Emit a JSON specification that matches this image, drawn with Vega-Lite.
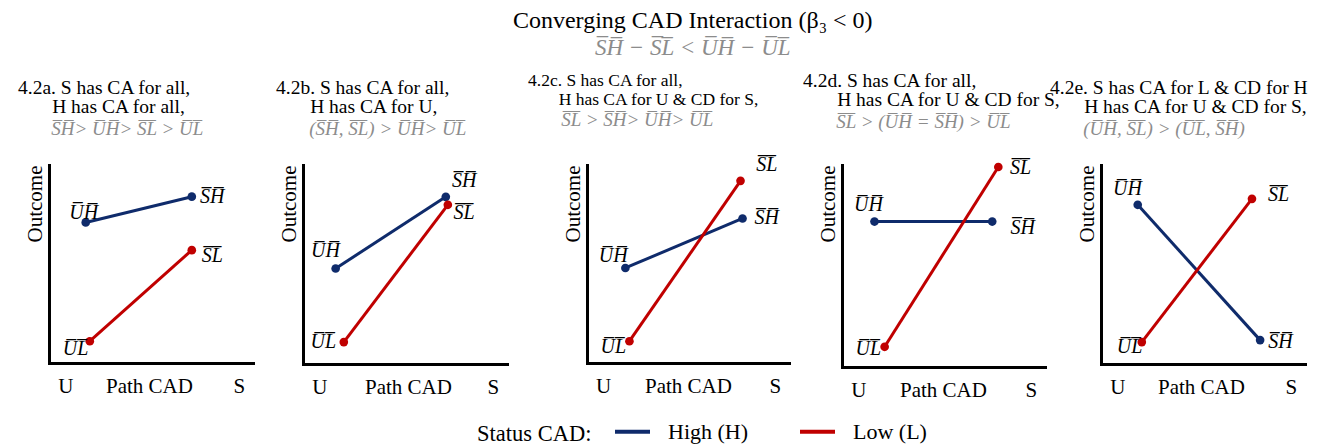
{
  "$schema": "https://vega.github.io/schema/vega-lite/v6.json",
  "background": "white",
  "padding": {"left": 18, "top": 8, "right": 5, "bottom": 2},
  "title": {
    "text": "Converging CAD Interaction  (β₃ < 0)",
    "subtitle": "S̅H̅ − S̅L̅ < U̅H̅ − U̅L̅",
    "anchor": "middle",
    "frame": "bounds",
    "fontSize": 24,
    "lineHeight": 24,
    "subtitleFontSize": 23,
    "subtitleFontStyle": "italic",
    "subtitleColor": "#8c8c8c",
    "subtitlePadding": 4,
    "offset": 11,
    "dx": 29
  },
  "datasets": {
    "pts": [
      {"panel": "a", "status": "High (H)", "path": "U", "x": 0.18, "y": 0.71},
      {"panel": "a", "status": "High (H)", "path": "S", "x": 0.70, "y": 0.84},
      {"panel": "a", "status": "Low (L)", "path": "U", "x": 0.20, "y": 0.11},
      {"panel": "a", "status": "Low (L)", "path": "S", "x": 0.70, "y": 0.57},
      {"panel": "b", "status": "High (H)", "path": "U", "x": 0.16, "y": 0.48},
      {"panel": "b", "status": "High (H)", "path": "S", "x": 0.70, "y": 0.84},
      {"panel": "b", "status": "Low (L)", "path": "U", "x": 0.20, "y": 0.11},
      {"panel": "b", "status": "Low (L)", "path": "S", "x": 0.71, "y": 0.80},
      {"panel": "c", "status": "High (H)", "path": "U", "x": 0.19, "y": 0.48},
      {"panel": "c", "status": "High (H)", "path": "S", "x": 0.77, "y": 0.73},
      {"panel": "c", "status": "Low (L)", "path": "U", "x": 0.21, "y": 0.11},
      {"panel": "c", "status": "Low (L)", "path": "S", "x": 0.76, "y": 0.92},
      {"panel": "d", "status": "High (H)", "path": "U", "x": 0.16, "y": 0.72},
      {"panel": "d", "status": "High (H)", "path": "S", "x": 0.74, "y": 0.72},
      {"panel": "d", "status": "Low (L)", "path": "U", "x": 0.21, "y": 0.10},
      {"panel": "d", "status": "Low (L)", "path": "S", "x": 0.77, "y": 0.99},
      {"panel": "e", "status": "High (H)", "path": "U", "x": 0.18, "y": 0.80},
      {"panel": "e", "status": "High (H)", "path": "S", "x": 0.78, "y": 0.12},
      {"panel": "e", "status": "Low (L)", "path": "U", "x": 0.20, "y": 0.11},
      {"panel": "e", "status": "Low (L)", "path": "S", "x": 0.74, "y": 0.83}
    ],
    "labs": [
      {"panel": "a", "label": "U̅H̅", "x": 0.17, "y": 0.76},
      {"panel": "a", "label": "S̅H̅", "x": 0.80, "y": 0.84},
      {"panel": "a", "label": "S̅L̅", "x": 0.80, "y": 0.54},
      {"panel": "a", "label": "U̅L̅", "x": 0.13, "y": 0.07},
      {"panel": "b", "label": "U̅H̅", "x": 0.11, "y": 0.57},
      {"panel": "b", "label": "S̅H̅", "x": 0.79, "y": 0.92},
      {"panel": "b", "label": "S̅L̅", "x": 0.79, "y": 0.76},
      {"panel": "b", "label": "U̅L̅", "x": 0.10, "y": 0.11},
      {"panel": "c", "label": "S̅L̅", "x": 0.89, "y": 1.00},
      {"panel": "c", "label": "S̅H̅", "x": 0.89, "y": 0.73},
      {"panel": "c", "label": "U̅H̅", "x": 0.13, "y": 0.54},
      {"panel": "c", "label": "U̅L̅", "x": 0.13, "y": 0.08},
      {"panel": "d", "label": "U̅H̅", "x": 0.13, "y": 0.80},
      {"panel": "d", "label": "S̅H̅", "x": 0.89, "y": 0.69},
      {"panel": "d", "label": "S̅L̅", "x": 0.88, "y": 0.985},
      {"panel": "d", "label": "U̅L̅", "x": 0.13, "y": 0.09},
      {"panel": "e", "label": "U̅H̅", "x": 0.13, "y": 0.88},
      {"panel": "e", "label": "S̅L̅", "x": 0.87, "y": 0.85},
      {"panel": "e", "label": "S̅H̅", "x": 0.88, "y": 0.11},
      {"panel": "e", "label": "U̅L̅", "x": 0.14, "y": 0.085}
    ]
  },
  "bounds": "flush",
  "spacing": 14,
  "hconcat": [
    {
      "width": 240, "height": 198,
      "title": {"text": ["4.2a. S has CA for all,", "\u200b\u00a0\u00a0\u00a0\u00a0\u00a0\u00a0\u00a0H has CA for all,"], "subtitle": "\u200b\u00a0\u00a0\u00a0\u00a0\u00a0\u00a0\u00a0S̅H̅> U̅H̅> S̅L̅ > U̅L̅", "anchor": "start", "dx": -31},
      "encoding": {
        "x": {"field": "x", "type": "quantitative", "title": "Path CAD", "scale": {"domain": [0, 1], "range": [0, 204], "nice": false, "zero": false}, "axis": {"values": [0.08, 0.93], "labelExpr": "datum.value < 0.5 ? 'U' : 'S'", "titleX": 100}},
        "y": {"field": "y", "type": "quantitative", "title": "Outcome", "scale": {"domain": [0, 1], "nice": false, "zero": false}, "axis": {"offset": 0}}
      },
      "layer": [
        {"mark": {"type": "rule", "color": "#f0f0f0", "strokeWidth": 1.5}, "encoding": {"x": {"datum": -0.20, "type": "quantitative"}, "x2": {"datum": 1.132}, "y": {"datum": 1.075, "type": "quantitative"}}},
        {"data": {"name": "pts"}, "transform": [{"filter": "datum.panel === 'a'"}], "mark": {"type": "line", "strokeWidth": 3}, "encoding": {"color": {"field": "status", "type": "nominal", "title": "Status CAD:", "scale": {"domain": ["High (H)", "Low (L)"], "range": ["#0f2b6b", "#c00000"]}}}},
        {"data": {"name": "pts"}, "transform": [{"filter": "datum.panel === 'a'"}], "mark": {"type": "point", "filled": true, "size": 75, "opacity": 1}, "encoding": {"color": {"field": "status", "type": "nominal"}}},
        {"data": {"name": "labs"}, "transform": [{"filter": "datum.panel === 'a'"}], "mark": {"type": "text", "fontStyle": "italic", "fontSize": 20, "baseline": "middle"}, "encoding": {"text": {"field": "label"}}},
        {"mark": {"type": "point", "shape": "triangle-up", "filled": true, "color": "black", "size": 120, "opacity": 1}, "encoding": {"x": {"datum": 0, "type": "quantitative"}, "y": {"datum": 1, "type": "quantitative"}}}
      ]
    },
    {
      "width": 240, "height": 199,
      "title": {"text": ["4.2b. S has CA for all,", "\u200b\u00a0\u00a0\u00a0\u00a0\u00a0\u00a0\u00a0H has CA for U,"], "subtitle": "\u200b\u00a0\u00a0\u00a0\u00a0\u00a0\u00a0\u00a0(S̅H̅, S̅L̅) > U̅H̅> U̅L̅", "anchor": "start", "dx": -27},
      "encoding": {
        "x": {"field": "x", "type": "quantitative", "title": "Path CAD", "scale": {"domain": [0, 1], "range": [0, 204], "nice": false, "zero": false}, "axis": {"values": [0.08, 0.93], "labelExpr": "datum.value < 0.5 ? 'U' : 'S'", "titleX": 105}},
        "y": {"field": "y", "type": "quantitative", "title": "Outcome", "scale": {"domain": [0, 1], "nice": false, "zero": false}, "axis": {"offset": 0}}
      },
      "layer": [
        {"mark": {"type": "rule", "color": "#f0f0f0", "strokeWidth": 1.5}, "encoding": {"x": {"datum": -0.113, "type": "quantitative"}, "x2": {"datum": 1.162}, "y": {"datum": 1.075, "type": "quantitative"}}},
        {"data": {"name": "pts"}, "transform": [{"filter": "datum.panel === 'b'"}], "mark": {"type": "line", "strokeWidth": 3}, "encoding": {"color": {"field": "status", "type": "nominal", "title": "Status CAD:", "scale": {"domain": ["High (H)", "Low (L)"], "range": ["#0f2b6b", "#c00000"]}}}},
        {"data": {"name": "pts"}, "transform": [{"filter": "datum.panel === 'b'"}], "mark": {"type": "point", "filled": true, "size": 75, "opacity": 1}, "encoding": {"color": {"field": "status", "type": "nominal"}}},
        {"data": {"name": "labs"}, "transform": [{"filter": "datum.panel === 'b'"}], "mark": {"type": "text", "fontStyle": "italic", "fontSize": 20, "baseline": "middle"}, "encoding": {"text": {"field": "label"}}},
        {"mark": {"type": "point", "shape": "triangle-up", "filled": true, "color": "black", "size": 120, "opacity": 1}, "encoding": {"x": {"datum": 0, "type": "quantitative"}, "y": {"datum": 1, "type": "quantitative"}}}
      ]
    },
    {
      "width": 240, "height": 198,
      "title": {"text": ["4.2c. S has CA for all,", "\u200b\u00a0\u00a0\u00a0\u00a0\u00a0\u00a0\u00a0H has CA for U & CD for S,"], "subtitle": "\u200b\u00a0\u00a0\u00a0\u00a0\u00a0\u00a0\u00a0S̅L̅ > S̅H̅> U̅H̅> U̅L̅", "anchor": "start", "dx": -29, "fontSize": 17.5},
      "encoding": {
        "x": {"field": "x", "type": "quantitative", "title": "Path CAD", "scale": {"domain": [0, 1], "range": [30, 232], "nice": false, "zero": false}, "axis": {"values": [0.08, 0.93], "labelExpr": "datum.value < 0.5 ? 'U' : 'S'", "titleX": 131}},
        "y": {"field": "y", "type": "quantitative", "title": "Outcome", "scale": {"domain": [0, 1], "nice": false, "zero": false}, "axis": {"offset": -30}}
      },
      "layer": [
        {"mark": {"type": "rule", "color": "#f0f0f0", "strokeWidth": 1.5}, "encoding": {"x": {"datum": -0.233, "type": "quantitative"}, "x2": {"datum": 1.129}, "y": {"datum": 1.075, "type": "quantitative"}}},
        {"mark": {"type": "rule", "color": "#f0f0f0", "strokeWidth": 1.5}, "encoding": {"x": {"datum": -0.327, "type": "quantitative"}, "y": {"datum": 1.444, "type": "quantitative"}, "y2": {"datum": -0.116}}},
        {"data": {"name": "pts"}, "transform": [{"filter": "datum.panel === 'c'"}], "mark": {"type": "line", "strokeWidth": 3}, "encoding": {"color": {"field": "status", "type": "nominal", "title": "Status CAD:", "scale": {"domain": ["High (H)", "Low (L)"], "range": ["#0f2b6b", "#c00000"]}}}},
        {"data": {"name": "pts"}, "transform": [{"filter": "datum.panel === 'c'"}], "mark": {"type": "point", "filled": true, "size": 75, "opacity": 1}, "encoding": {"color": {"field": "status", "type": "nominal"}}},
        {"data": {"name": "labs"}, "transform": [{"filter": "datum.panel === 'c'"}], "mark": {"type": "text", "fontStyle": "italic", "fontSize": 20, "baseline": "middle"}, "encoding": {"text": {"field": "label"}}},
        {"mark": {"type": "point", "shape": "triangle-up", "filled": true, "color": "black", "size": 120, "opacity": 1}, "encoding": {"x": {"datum": 0, "type": "quantitative"}, "y": {"datum": 1, "type": "quantitative"}}}
      ]
    },
    {
      "width": 240, "height": 202,
      "title": {"text": ["4.2d. S has CA for all,", "\u200b\u00a0\u00a0\u00a0\u00a0\u00a0\u00a0\u00a0H has CA for U & CD for S,"], "subtitle": "\u200b\u00a0\u00a0\u00a0\u00a0\u00a0\u00a0\u00a0S̅L̅ > (U̅H̅ = S̅H̅) > U̅L̅", "anchor": "start", "dx": -8},
      "encoding": {
        "x": {"field": "x", "type": "quantitative", "title": "Path CAD", "scale": {"domain": [0, 1], "range": [31, 234], "nice": false, "zero": false}, "axis": {"values": [0.08, 0.93], "labelExpr": "datum.value < 0.5 ? 'U' : 'S'", "titleX": 132}},
        "y": {"field": "y", "type": "quantitative", "title": "Outcome", "scale": {"domain": [0, 1], "nice": false, "zero": false}, "axis": {"offset": -31}}
      },
      "layer": [
        {"mark": {"type": "rule", "color": "#f0f0f0", "strokeWidth": 1.5}, "encoding": {"x": {"datum": -0.133, "type": "quantitative"}, "x2": {"datum": 1.148}, "y": {"datum": 1.074, "type": "quantitative"}}},
        {"data": {"name": "pts"}, "transform": [{"filter": "datum.panel === 'd'"}], "mark": {"type": "line", "strokeWidth": 3}, "encoding": {"color": {"field": "status", "type": "nominal", "title": "Status CAD:", "scale": {"domain": ["High (H)", "Low (L)"], "range": ["#0f2b6b", "#c00000"]}}}},
        {"data": {"name": "pts"}, "transform": [{"filter": "datum.panel === 'd'"}], "mark": {"type": "point", "filled": true, "size": 75, "opacity": 1}, "encoding": {"color": {"field": "status", "type": "nominal"}}},
        {"data": {"name": "labs"}, "transform": [{"filter": "datum.panel === 'd'"}], "mark": {"type": "text", "fontStyle": "italic", "fontSize": 20, "baseline": "middle"}, "encoding": {"text": {"field": "label"}}},
        {"mark": {"type": "point", "shape": "triangle-up", "filled": true, "color": "black", "size": 120, "opacity": 1}, "encoding": {"x": {"datum": 0, "type": "quantitative"}, "y": {"datum": 1, "type": "quantitative"}}}
      ]
    },
    {
      "width": 240, "height": 199,
      "title": {"text": ["4.2e. S has CA for L & CD for H", "\u200b\u00a0\u00a0\u00a0\u00a0\u00a0\u00a0\u00a0H has CA for U & CD for S,"], "subtitle": "\u200b\u00a0\u00a0\u00a0\u00a0\u00a0\u00a0\u00a0(U̅H̅, S̅L̅) > (U̅L̅, S̅H̅)", "anchor": "start", "dx": -15},
      "encoding": {
        "x": {"field": "x", "type": "quantitative", "title": "Path CAD", "scale": {"domain": [0, 1], "range": [36, 240], "nice": false, "zero": false}, "axis": {"values": [0.08, 0.93], "labelExpr": "datum.value < 0.5 ? 'U' : 'S'", "titleX": 136}},
        "y": {"field": "y", "type": "quantitative", "title": "Outcome", "scale": {"domain": [0, 1], "nice": false, "zero": false}, "axis": {"offset": -36}}
      },
      "layer": [
        {"mark": {"type": "rule", "color": "#f0f0f0", "strokeWidth": 1.5}, "encoding": {"x": {"datum": -0.127, "type": "quantitative"}, "x2": {"datum": 1.078}, "y": {"datum": 1.075, "type": "quantitative"}}},
        {"data": {"name": "pts"}, "transform": [{"filter": "datum.panel === 'e'"}], "mark": {"type": "line", "strokeWidth": 3}, "encoding": {"color": {"field": "status", "type": "nominal", "title": "Status CAD:", "scale": {"domain": ["High (H)", "Low (L)"], "range": ["#0f2b6b", "#c00000"]}}}},
        {"data": {"name": "pts"}, "transform": [{"filter": "datum.panel === 'e'"}], "mark": {"type": "point", "filled": true, "size": 75, "opacity": 1}, "encoding": {"color": {"field": "status", "type": "nominal"}}},
        {"data": {"name": "labs"}, "transform": [{"filter": "datum.panel === 'e'"}], "mark": {"type": "text", "fontStyle": "italic", "fontSize": 20, "baseline": "middle"}, "encoding": {"text": {"field": "label"}}},
        {"mark": {"type": "point", "shape": "triangle-up", "filled": true, "color": "black", "size": 120, "opacity": 1}, "encoding": {"x": {"datum": 0, "type": "quantitative"}, "y": {"datum": 1, "type": "quantitative"}}}
      ]
    }
  ],
  "config": {
    "view": {"stroke": null},
    "font": "Liberation Serif",
    "text": {"font": "Liberation Serif", "color": "black"},
    "axis": {
      "grid": false, "ticks": false, "domainColor": "black", "domainWidth": 3, "domainCap": "square",
      "labelFont": "Liberation Serif", "titleFont": "Liberation Serif", "labelColor": "black", "titleColor": "black",
      "titleFontWeight": "normal", "labelFontSize": 21, "titleFontSize": 21, "labelOverlap": false, "labelFlush": false
    },
    "axisY": {"labels": false, "titleAnchor": "end", "titlePadding": 4},
    "axisX": {"labelBaseline": "alphabetic", "labelPadding": 29, "titleY": 29, "titleBaseline": "alphabetic"},
    "title": {
      "font": "Liberation Serif", "fontSize": 19.5, "fontWeight": "normal", "color": "black", "lineHeight": 19,
      "subtitleFont": "Liberation Serif", "subtitleFontSize": 19, "subtitleFontStyle": "italic", "subtitleColor": "#8c8c8c",
      "subtitlePadding": 3, "offset": 25, "frame": "group"
    },
    "legend": {
      "orient": "none", "legendX": 428, "legendY": 247, "direction": "horizontal",
      "titleOrient": "left", "titleBaseline": "line-top", "titleLineHeight": 15,
      "titleFont": "Liberation Serif", "titleFontSize": 22.5, "titleFontWeight": "normal", "titleColor": "black",
      "titlePadding": 21, "labelFont": "Liberation Serif", "labelFontSize": 22, "labelColor": "black",
      "symbolType": "stroke", "symbolStrokeWidth": 4, "symbolSize": 1225, "labelOffset": 16, "columnPadding": 43
    }
  }
}
